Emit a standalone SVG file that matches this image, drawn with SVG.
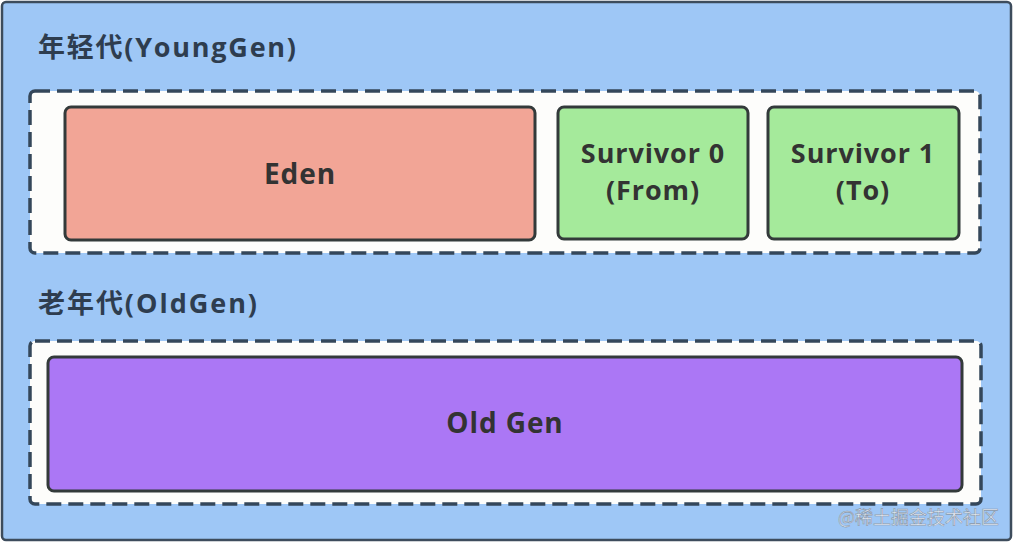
<svg xmlns="http://www.w3.org/2000/svg" width="1016" height="544" viewBox="0 0 1016 544">
<style>
.lbl{font-family:"Open Sans","Noto Sans CJK SC",sans-serif;font-weight:bold;font-size:27px;fill:#2e3d4f}
.t{font-family:"Open Sans","Noto Sans CJK SC",sans-serif;font-weight:bold;font-size:28px;letter-spacing:0.9px;fill:#333333;text-anchor:middle}
.s{font-size:27px}
.dash{fill:#fdfdfb;stroke:#34475a;stroke-width:3.5;stroke-dasharray:15 7}
.box{stroke:#333a3a;stroke-width:3}
</style>
<rect x="2" y="2" width="1009" height="538" rx="4" fill="#9ec7f6" stroke="#3d4c5c" stroke-width="2.5"/>
<g id="young">
<text class="lbl" x="38" y="57" textLength="258" lengthAdjust="spacing">年轻代(YoungGen)</text>
<rect class="dash" x="30" y="91" width="950" height="162" rx="5"/>
</g>
<g id="eden">
<rect class="box" x="65" y="107" width="470" height="133" rx="6" fill="#f2a596"/>
<text class="t" x="300" y="184">Eden</text>
</g>
<g id="s0">
<rect class="box" x="558" y="107" width="190" height="132" rx="6" fill="#a5ea9b"/>
<text class="t s" x="653" y="163">Survivor 0</text>
<text class="t s" x="653" y="200">(From)</text>
</g>
<g id="s1">
<rect class="box" x="768" y="107" width="191" height="132" rx="6" fill="#a5ea9b"/>
<text class="t s" x="863" y="163">Survivor 1</text>
<text class="t s" x="863" y="200">(To)</text>
</g>
<g id="old">
<text class="lbl" x="38" y="313" textLength="219" lengthAdjust="spacing">老年代(OldGen)</text>
<rect class="dash" x="30" y="341" width="951" height="163" rx="5"/>
</g>
<g id="oldgen">
<rect class="box" x="48" y="357" width="914" height="134" rx="6" fill="#ab77f5"/>
<text class="t" x="505" y="433">Old Gen</text>
</g>
<g id="connectors"></g>
<text x="838" y="524" font-family="'Noto Sans CJK SC',sans-serif" font-size="18" fill="#e6edf6" stroke="#8a97a8" stroke-width="0.6">@稀土掘金技术社区</text>
</svg>
